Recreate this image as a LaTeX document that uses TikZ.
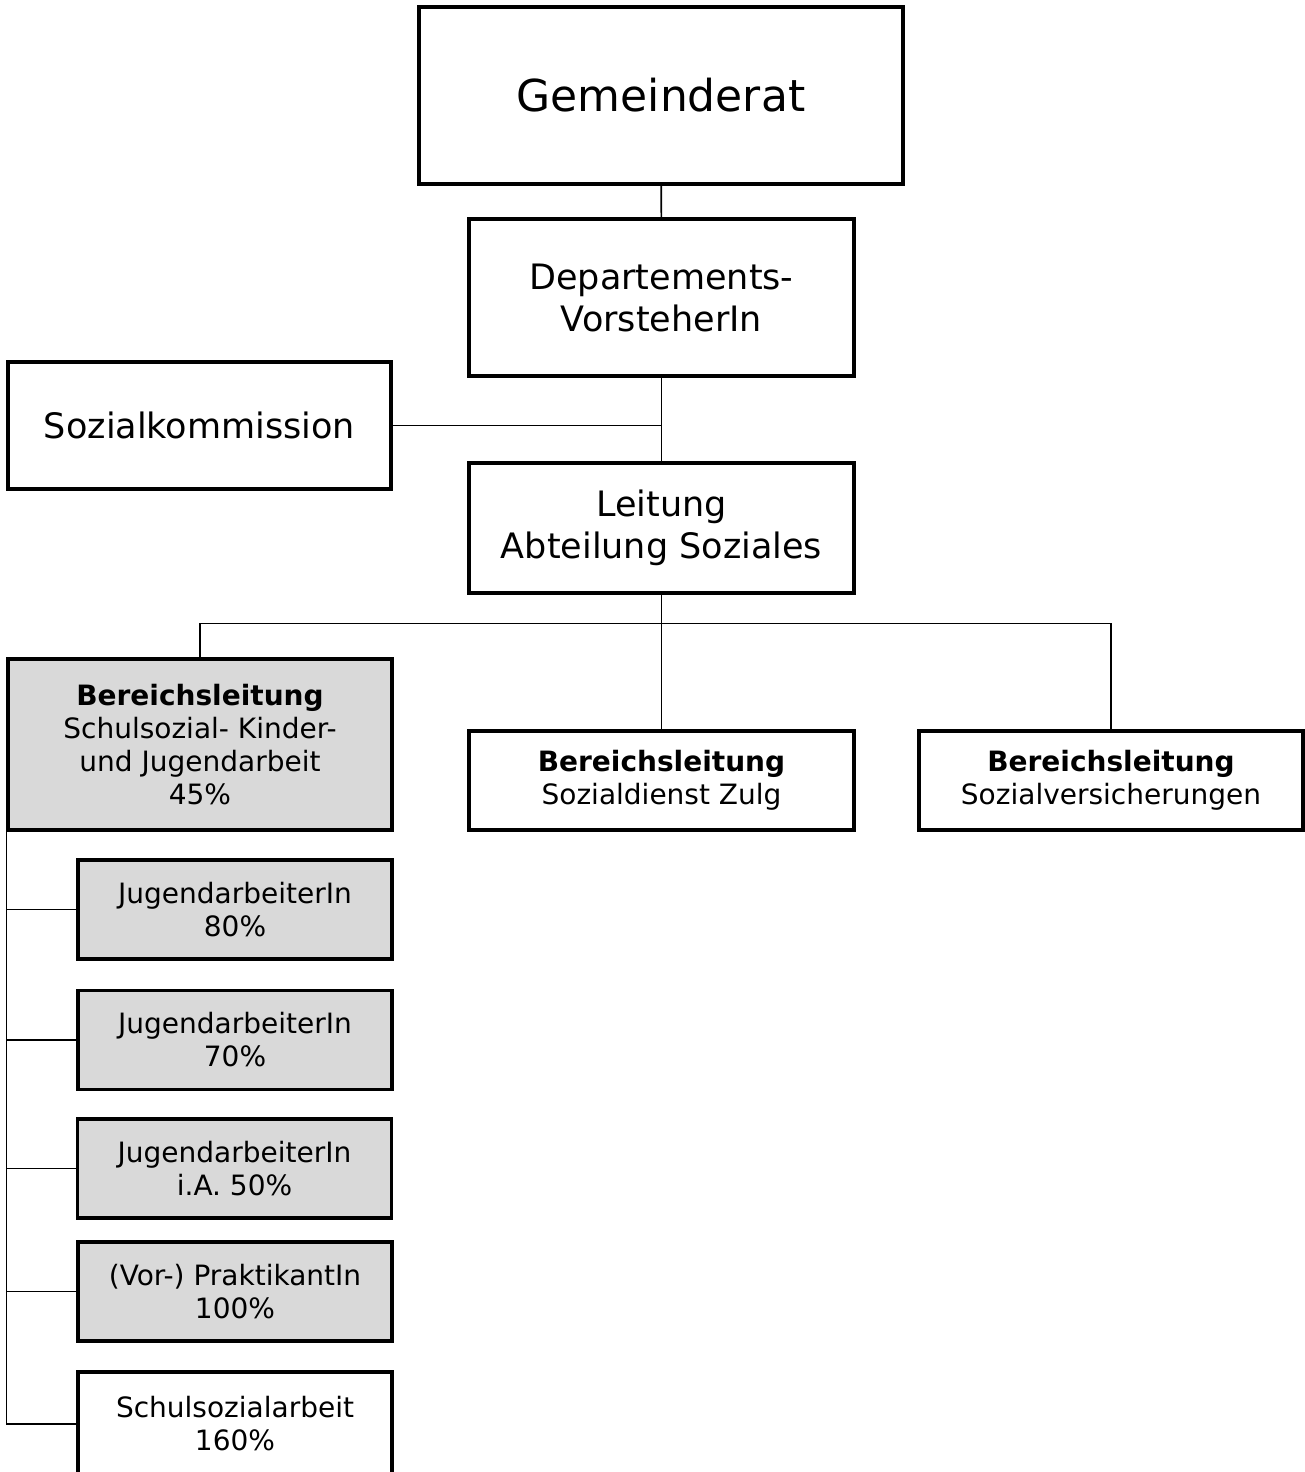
\documentclass[tikz,border=0pt]{standalone}
\usepackage{fontspec}
\setmainfont{DejaVu Sans}
\usepackage{xcolor}
\definecolor{boxgray}{HTML}{D9D9D9}
\tikzset{
  box/.style={draw=black, fill=white, line width=3.2bp, align=center, inner sep=0pt},
  greybox/.style={box, fill=boxgray},
  link/.style={draw=black, line width=1.6bp},
  big/.style={font=\fontsize{44bp}{52bp}\selectfont},
  mid/.style={font=\fontsize{35bp}{42bp}\selectfont},
  small/.style={font=\fontsize{28bp}{33bp}\selectfont},
  sub/.style={greybox, small, minimum width=314bp, minimum height=99bp}
}

\begin{document}
\begin{tikzpicture}[x=1bp, y=-1bp]
  \clip (0,0) rectangle (1305,1472);

  % top of the hierarchy
  \node[box,big,minimum width=484bp,minimum height=177bp] (gr) at (661,95.5) {Gemeinderat};
  \node[box,mid,minimum width=385bp,minimum height=157bp] (dv) at (661.5,297.5) {Departements-\\VorsteherIn};
  \node[box,mid,minimum width=383bp,minimum height=127bp] (sk) at (199.5,425.5) {Sozialkommission};
  \node[box,mid,minimum width=385bp,minimum height=130bp] (la) at (661.5,528) {Leitung\\Abteilung Soziales};

  % Bereichsleitungen
  \node[greybox,small,minimum width=384bp,minimum height=171bp] (bl1) at (200,744.5)
    {\textbf{Bereichsleitung}\\Schulsozial- Kinder-\\und Jugendarbeit\\45\%};
  \node[box,small,minimum width=385bp,minimum height=99bp] (bl2) at (661.5,780.5)
    {\textbf{Bereichsleitung}\\Sozialdienst Zulg};
  \node[box,small,minimum width=384bp,minimum height=99bp] (bl3) at (1111,780.5)
    {\textbf{Bereichsleitung}\\Sozialversicherungen};

  % Stellen
  \node[sub] (j1) at (235,909.5) {JugendarbeiterIn\\80\%};
  \node[sub] (j2) at (235,1040) {JugendarbeiterIn\\70\%};
  \node[sub] (j3) at (234.5,1168.5) {JugendarbeiterIn\\i.A. 50\%};
  \node[sub] (pr) at (235,1291.5) {(Vor-) PraktikantIn\\100\%};
  \node[sub,fill=white,minimum height=104bp] (ss) at (235,1424) {Schulsozialarbeit\\160\%};

  % connectors
  \draw[link] (gr) -- (dv);
  \draw[link] (dv) -- (la);
  \draw[link] (sk.east) -- (sk.east -| la.north);
  \draw[link] (la.south) -- ++(0,29) coordinate (bus);
  \draw[link] (bus) -| (bl1.north);
  \draw[link] (bus) -- (bl2.north);
  \draw[link] (bus) -| (bl3.north);
  \foreach \n in {j1,j2,j3,pr,ss}
    \draw[link] (bl1.south west) |- (\n.west);
\end{tikzpicture}
\end{document}
